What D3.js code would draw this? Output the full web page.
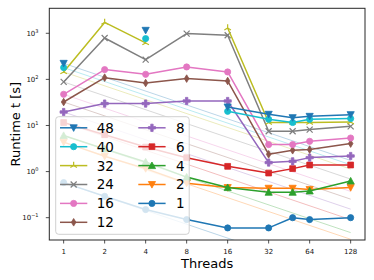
<!DOCTYPE html>
<html><head><meta charset="utf-8">
<script src="https://cdn.jsdelivr.net/npm/d3@7"></script>
<style>body{margin:0;background:#fff}svg{display:block}</style>
</head><body><svg id="c" width="374" height="280"></svg>
<script>
const threads = [1, 2, 4, 8, 16, 32, 48, 64, 128];
const seriesLabels = ["1", "2", "4", "6", "8", "12", "16", "24", "32", "40", "48"];
const s1  = [0.577, 0.291, 0.15, 0.091, 0.06, 0.06, 0.1, 0.091, 0.1];
const s2  = [4.35, 2.15, 1.16, 0.56, 0.45, 0.435, 0.435, 0.41, 0.45];
const s4  = [6.07, 3.1, 1.62, 0.76, 0.45, 0.356, 0.356, 0.38, 0.625];
const s6  = [11.6, 6.3, 3.4, 2.0, 1.3, 0.93, 1.16, 1.39, 1.39];
const s8  = [19.6, 29.9, 29.9, 34, 34, 1.57, 1.67, 2.01, 2.18];
const s12 = [32.3, 109, 83.5, 104, 92.3, 2.37, 2.9, 3.0, 4.05];
const s16 = [47.5, 163, 129, 186, 145, 3.85, 3.85, 4.54, 5.35];
const s24 = [88, 790, 269, 985, 906, 7.5, 7.5, 8.15, 9.6];
const s32 = [145, 1720, 617, null, 1300, 11.6, 11.6, 11.6, 11.9];
const s40 = [180, null, 767, null, 20.3, 13.6, 11.6, 13.6, 14.1];
const s48 = [223, null, 1160, null, 25.2, 17.5, 14.8, 15.8, 17.2];
const seriesValues = [s1, s2, s4, s6, s8, s12, s16, s24, s32, s40, s48];
const xTickValues = [1, 2, 4, 8, 16, 32, 64, 128];
const yTickValues = [0.1, 1, 10, 100, 1000];
const yTickExponents = ["\u22121", "0", "1", "2", "3"];
const legendCol1 = ["48", "40", "32", "24", "16", "12"];
const legendCol2 = ["8", "6", "4", "2", "1"];

const colors = ["#1f77b4","#ff7f0e","#2ca02c","#d62728","#9467bd","#8c564b","#e377c2","#7f7f7f","#bcbd22","#17becf","#1f77b4"];
const markers = ["o","v","^","s","P","d","o","x","2","o","v"];

const L = 49.3, R = 365, T = 8.3, B = 240;
const x = d3.scaleLog().base(2).domain([Math.pow(2, -0.35), Math.pow(2, 7.35)]).range([L, R]);
const y = d3.scaleLog().domain([Math.pow(10, -1.484), Math.pow(10, 3.542)]).range([B, T]);

const svg = d3.select("#c");
const font = "DejaVu Sans, sans-serif";
svg.append("defs").append("clipPath").attr("id", "clip")
  .append("rect").attr("x", L).attr("y", T).attr("width", R - L).attr("height", B - T);

function markerPath(m) {
  switch (m) {
    case "o": return d3.symbol(d3.symbolCircle, Math.PI * 9.6)();
    case "v": return "M-3.6,-3L3.6,-3L0,3.6Z";
    case "^": return "M-3.6,3L3.6,3L0,-3.6Z";
    case "s": return "M-2.9,-2.9H2.9V2.9H-2.9Z";
    case "P": return "M-1.2,-3.6H1.2V-1.2H3.6V1.2H1.2V3.6H-1.2V1.2H-3.6V-1.2H-1.2Z";
    case "d": return "M0,-3.8L2.3,0L0,3.8L-2.3,0Z";
    case "x": return "M-3,-3L3,3M-3,3L3,-3";
    case "2": return "M0,0V-3.8M0,0L-3.3,1.9M0,0L3.3,1.9";
  }
}
const strokeOnly = m => m === "x" || m === "2";

function drawMarker(g, m, c, cx, cy) {
  g.append("path").attr("d", markerPath(m))
    .attr("transform", `translate(${cx},${cy})`)
    .attr("fill", strokeOnly(m) ? "none" : c)
    .attr("stroke", c).attr("stroke-width", strokeOnly(m) ? 1.2 : 0.8);
}

const plot = svg.append("g").attr("clip-path", "url(#clip)");

// ideal scaling lines
seriesValues.forEach((vals, i) => {
  const v0 = vals[0];
  plot.append("line")
    .attr("x1", x(1)).attr("y1", y(v0))
    .attr("x2", x(128)).attr("y2", y(v0 / 128))
    .attr("stroke", colors[i]).attr("stroke-width", 1).attr("stroke-opacity", 0.3);
});

// series
const line = d3.line().defined(d => d.v != null).x(d => x(d.t)).y(d => y(d.v));
seriesValues.forEach((vals, i) => {
  const pts = threads.map((t, j) => ({ t, v: vals[j] }));
  plot.append("path").attr("d", line(pts)).attr("fill", "none")
    .attr("stroke", colors[i]).attr("stroke-width", 1.5).attr("stroke-linejoin", "round");
  pts.filter(p => p.v != null).forEach(p => drawMarker(plot, markers[i], colors[i], x(p.t), y(p.v)));
});

// spines
svg.append("rect").attr("x", L).attr("y", T).attr("width", R - L).attr("height", B - T)
  .attr("fill", "none").attr("stroke", "#262626").attr("stroke-width", 1);

// x ticks
xTickValues.forEach(t => {
  svg.append("line").attr("x1", x(t)).attr("x2", x(t)).attr("y1", B).attr("y2", B + 3.5)
    .attr("stroke", "#262626").attr("stroke-width", 0.8);
  svg.append("text").attr("x", x(t)).attr("y", 253.5).attr("text-anchor", "middle")
    .attr("font-family", font).attr("font-size", 7).attr("fill", "#111").text(String(t));
});
// y ticks
yTickValues.forEach((v, i) => {
  svg.append("line").attr("x1", L - 3.5).attr("x2", L).attr("y1", y(v)).attr("y2", y(v))
    .attr("stroke", "#262626").attr("stroke-width", 0.8);
  const tx = svg.append("text").attr("x", 38.5).attr("y", y(v) + 2.5).attr("text-anchor", "end")
    .attr("font-family", font).attr("font-size", 7).attr("fill", "#111");
  tx.append("tspan").text("10");
  tx.append("tspan").attr("dy", -3).attr("font-size", 5).text(yTickExponents[i]);
});

// axis labels
svg.append("text").attr("x", (L + R) / 2).attr("y", 267.5).attr("text-anchor", "middle")
  .attr("font-family", font).attr("font-size", 13).attr("fill", "#000").text("Threads");
svg.append("text").attr("transform", `translate(19.5,${(T + B) / 2}) rotate(-90)`)
  .attr("text-anchor", "middle").attr("font-family", font).attr("font-size", 13)
  .attr("fill", "#000").text("Runtime t [s]");

// legend
const lg = svg.append("g");
lg.append("rect").attr("x", 55.7).attr("y", 116.7).attr("width", 133.5).attr("height", 117.6)
  .attr("rx", 3).attr("fill", "#fff").attr("fill-opacity", 0.8)
  .attr("stroke", "#d0d0d0").attr("stroke-width", 1);
function legendEntry(label, col, row) {
  const i = seriesLabels.indexOf(label);
  const hx0 = col === 0 ? 60 : 138.3, hx1 = hx0 + 27.3, tx = col === 0 ? 96.7 : 176;
  const cy = 127.8 + row * 18.9;
  lg.append("line").attr("x1", hx0).attr("x2", hx1).attr("y1", cy).attr("y2", cy)
    .attr("stroke", colors[i]).attr("stroke-width", 1.5);
  drawMarker(lg, markers[i], colors[i], (hx0 + hx1) / 2, cy);
  lg.append("text").attr("x", tx).attr("y", cy + 4.9).attr("font-family", font)
    .attr("font-size", 13.5).attr("fill", "#000").text(label);
}
legendCol1.forEach((l, r) => legendEntry(l, 0, r));
legendCol2.forEach((l, r) => legendEntry(l, 1, r));
</script></body></html>
